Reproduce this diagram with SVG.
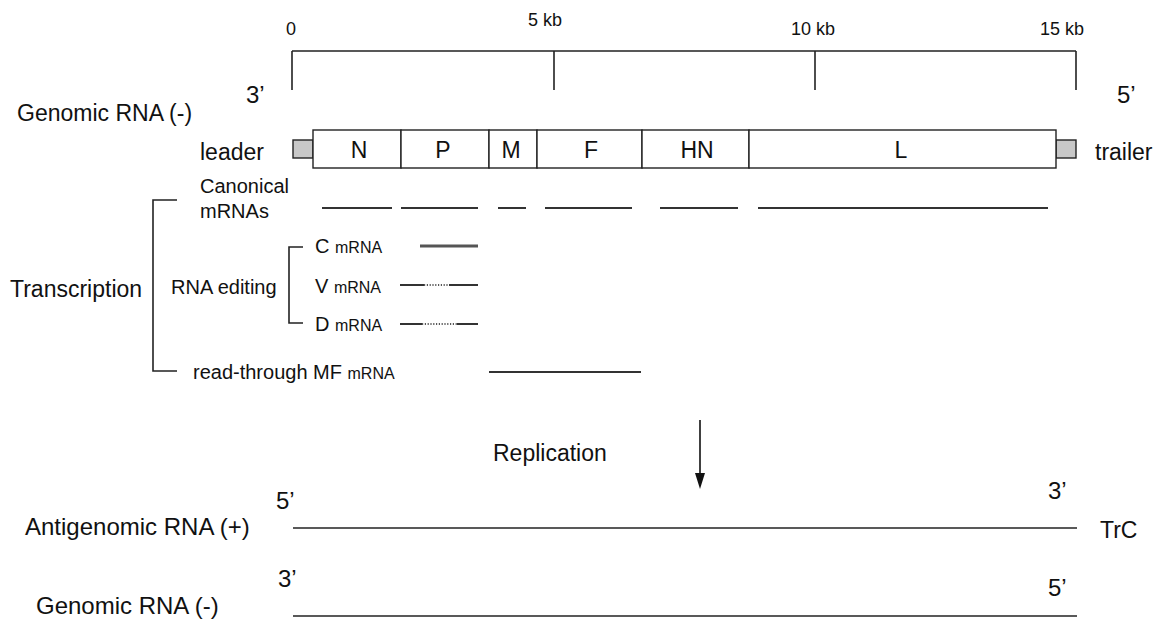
<svg xmlns="http://www.w3.org/2000/svg" width="1163" height="622" viewBox="0 0 1163 622">
<style>
text{font-family:"Liberation Sans",Arial,sans-serif;fill:#111}
.big{font-size:23px}
.lab{font-size:24px}
.med{font-size:20px}
.sm{font-size:16px}
.kb{font-size:18px}
.ln{stroke:#222;stroke-width:1.6;fill:none}
.mr{stroke:#333;stroke-width:2;fill:none}
.dot{stroke:#222;stroke-width:1.4;stroke-dasharray:1.2 1.6;fill:none}
.seg{fill:#fff;stroke:#222;stroke-width:1.4}
.end{fill:#c8c8c8;stroke:#222;stroke-width:1.4}
</style>

<g id="scale">
<path class="ln" d="M292,51 H1076 M292,51 V90 M554,51 V90 M815,51 V90 M1076,51 V90"/>
<text class="kb" x="286" y="35">0</text>
<text class="kb" x="528" y="26">5 kb</text>
<text class="kb" x="791" y="35">10 kb</text>
<text class="kb" x="1040" y="35">15 kb</text>
</g>

<g id="genome-top">
<text class="big" x="17" y="121">Genomic RNA (-)</text>
<text class="lab" x="246" y="103">3’</text>
<text class="lab" x="1117" y="103">5’</text>
<text class="big" x="200" y="160">leader</text>
<text class="big" x="1095" y="160">trailer</text>
<rect class="end" x="293" y="140" width="20" height="18"/>
<rect class="end" x="1056" y="140" width="20" height="18"/>
</g>

<g id="gene-N"><rect class="seg" x="313" y="130" width="88" height="38"/><text class="big" x="359" y="158" text-anchor="middle">N</text></g>
<g id="gene-P"><rect class="seg" x="401" y="130" width="88" height="38"/><text class="big" x="443" y="158" text-anchor="middle">P</text></g>
<g id="gene-M"><rect class="seg" x="489" y="130" width="48" height="38"/><text class="big" x="511" y="158" text-anchor="middle">M</text></g>
<g id="gene-F"><rect class="seg" x="537" y="130" width="105" height="38"/><text class="big" x="591" y="158" text-anchor="middle">F</text></g>
<g id="gene-HN"><rect class="seg" x="642" y="130" width="107" height="38"/><text class="big" x="697" y="158" text-anchor="middle">HN</text></g>
<g id="gene-L"><rect class="seg" x="749" y="130" width="307" height="38"/><text class="big" x="901" y="158" text-anchor="middle">L</text></g>

<g id="canonical">
<text class="med" x="200" y="193">Canonical</text>
<text class="med" x="200" y="218">mRNAs</text>
<path class="mr" d="M322,208 H392 M401,208 H478 M498,208 H526 M545,208 H632 M660,208 H738 M758,208 H1048"/>
</g>

<g id="transcription">
<text class="big" x="10" y="297">Transcription</text>
<path class="ln" d="M177,200 H153 V371 H177"/>
</g>

<g id="editing">
<text class="med" x="171" y="294">RNA editing</text>
<path class="ln" d="M303,247 H289 V323 H303"/>
<text x="315" y="253"><tspan class="med">C </tspan><tspan class="sm">mRNA</tspan></text>
<text x="315" y="293"><tspan class="med">V </tspan><tspan class="sm">mRNA</tspan></text>
<text x="315" y="331"><tspan class="med">D </tspan><tspan class="sm">mRNA</tspan></text>
<path d="M420,246 H478" stroke="#555" stroke-width="3" fill="none"/>
<path class="mr" d="M400,285 H424 M449,285 H478"/>
<path class="dot" d="M424,285 H449"/>
<path class="mr" d="M400,324 H422 M457,324 H478"/>
<path class="dot" d="M422,324 H457"/>
</g>

<g id="readthrough">
<text x="193" y="379"><tspan class="med">read-through MF </tspan><tspan class="sm">mRNA</tspan></text>
<path class="mr" d="M489,372 H641"/>
</g>

<g id="replication">
<text class="big" x="493" y="461">Replication</text>
</g>

<g id="antigenome">
<text class="lab" x="25" y="535">Antigenomic RNA (+)</text>
<text class="lab" x="276" y="509">5’</text>
<text class="lab" x="1048" y="499">3’</text>
<text class="big" x="1100" y="538">TrC</text>
<path class="ln" d="M293,528 H1077"/>
</g>

<g id="genome-bottom">
<text class="lab" x="36" y="614">Genomic RNA (-)</text>
<text class="lab" x="278" y="587">3’</text>
<text class="lab" x="1048" y="596">5’</text>
<path class="ln" d="M293,616 H1077"/>
</g>

<g id="connectors">
<path d="M700,420 V474" stroke="#111" stroke-width="1.6" fill="none"/>
<path d="M695,473 L705,473 L700,489 Z" fill="#111"/>
</g>
</svg>
